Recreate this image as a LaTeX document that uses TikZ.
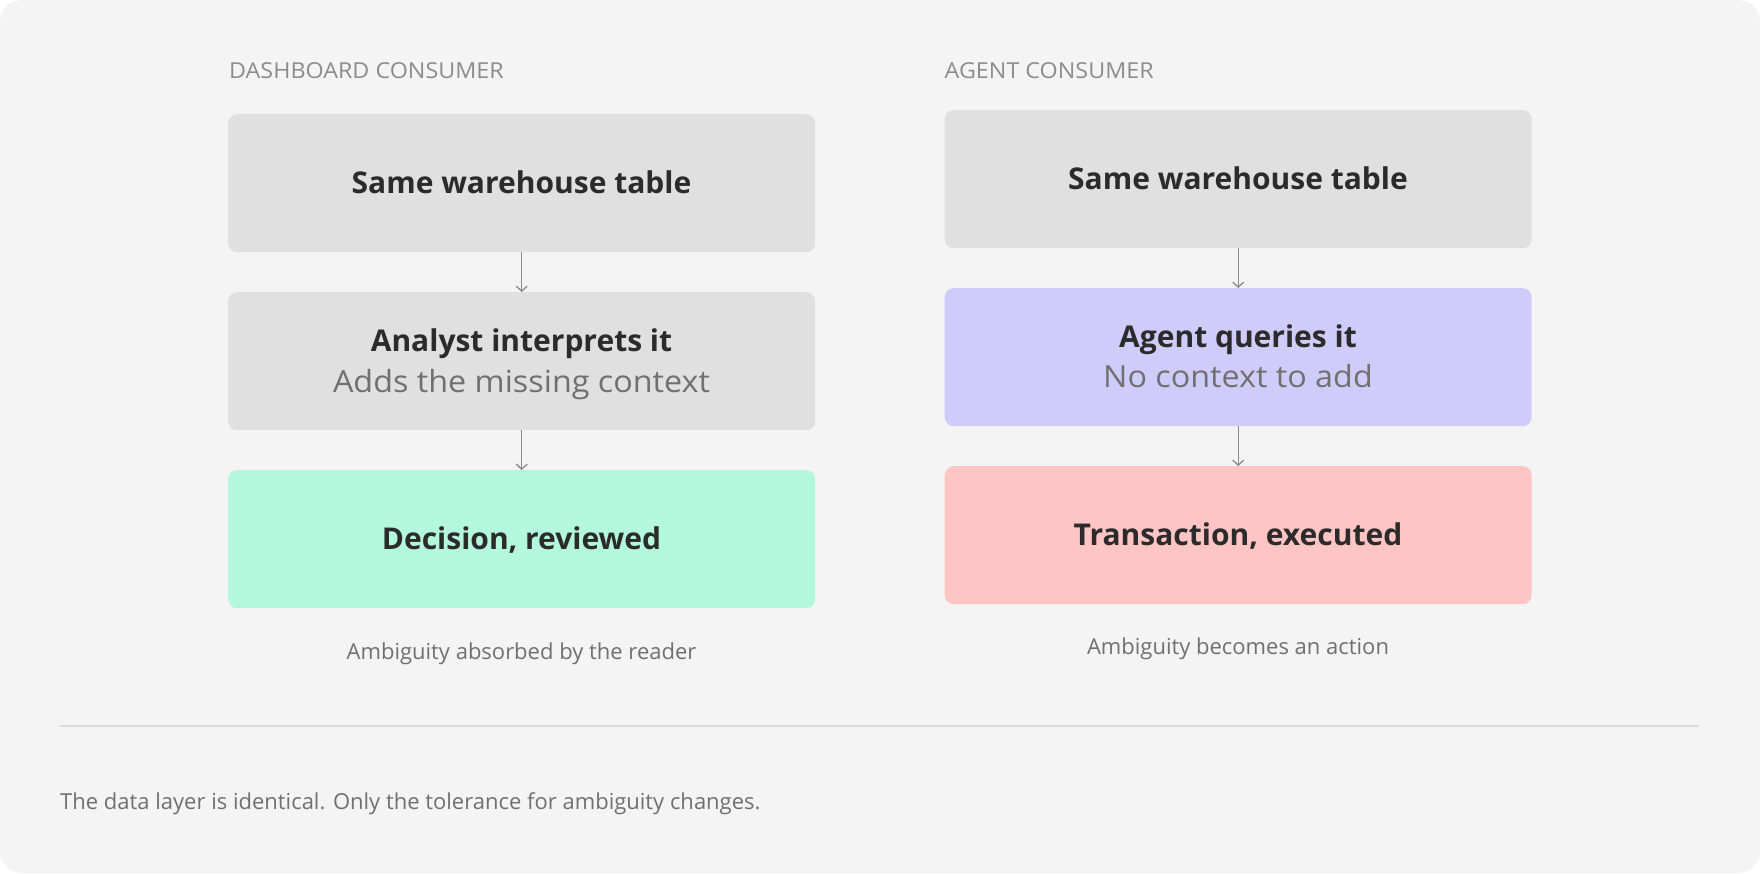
\documentclass[tikz,border=0pt]{standalone}
\usepackage{fontspec}
\setmainfont{Open Sans}
\newfontfamily\widefont[FakeStretch=1.06]{Open Sans}
\usetikzlibrary{arrows.meta}
\definecolor{bgc}{HTML}{F4F4F4}
\definecolor{boxgrey}{HTML}{E0E0E0}
\definecolor{mint}{HTML}{B3F7DF}
\definecolor{lav}{HTML}{D0CCFA}
\definecolor{pinkc}{HTML}{FFC4C4}
\definecolor{dark}{HTML}{2B2B2B}
\definecolor{subc}{HTML}{707070}
\definecolor{headc}{HTML}{8C8C8C}
\definecolor{arrc}{HTML}{8A8A8A}
\definecolor{rulec}{HTML}{DADADA}
\begin{document}
\begin{tikzpicture}[x=1pt,y=-1pt,
  card/.style={rectangle,rounded corners=9pt,minimum width=587pt,minimum height=138pt,inner sep=0pt,anchor=north west},
  ttl/.style={font=\fontsize{30}{34}\selectfont\bfseries,text=dark,anchor=base,inner sep=0pt},
  sub/.style={font=\widefont\fontsize{30.5}{34}\selectfont,text=subc,anchor=base,inner sep=0pt},
  head/.style={font=\widefont\fontsize{22}{24}\selectfont,text=headc,anchor=base west,inner sep=0pt},
  captxt/.style={font=\fontsize{22}{24}\selectfont,text=subc,anchor=base,inner sep=0pt},
  flow/.style={draw=arrc,line width=1.3pt,-{Straight Barb[length=5pt,width=11pt,line width=1.3pt]}}
]
\useasboundingbox (0,0) rectangle (1760,873);
\fill[white] (0,0) rectangle (1760,873);
\fill[bgc,rounded corners=22pt] (0,0) rectangle (1760,873);

% left column
\node[head] (hL) at (229,78) {DASHBOARD CONSUMER};
\node[card,fill=boxgrey] (L1) at (228,114) {};
\node[card,fill=boxgrey] (L2) at (228,292) {};
\node[card,fill=mint] (L3) at (228,470) {};
\node[ttl] (tL1) at (521.5,193) {Same warehouse table};
\node[ttl] (tL2) at (521.5,351) {Analyst interprets it};
\node[sub] (sL2) at (521.5,392) {Adds the missing context};
\node[ttl] (tL3) at (521.5,549) {Decision, reviewed};
\node[captxt] (cL) at (521.5,659) {Ambiguity absorbed by the reader};
\draw[flow] (L1.south) -- (L2.north);
\draw[flow] (L2.south) -- (L3.north);

% right column
\node[head] (hR) at (944.5,78) {AGENT CONSUMER};
\node[card,fill=boxgrey] (R1) at (944.5,110) {};
\node[card,fill=lav] (R2) at (944.5,288) {};
\node[card,fill=pinkc] (R3) at (944.5,466) {};
\node[ttl] (tR1) at (1238,189) {Same warehouse table};
\node[ttl] (tR2) at (1238,347) {Agent queries it};
\node[sub] (sR2) at (1238,387) {No context to add};
\node[ttl] (tR3) at (1238,545) {Transaction, executed};
\node[captxt] (cR) at (1238,654) {Ambiguity becomes an action};
\draw[flow] (R1.south) -- (R2.north);
\draw[flow] (R2.south) -- (R3.north);

% divider and footer
\coordinate (d1) at (60,726);
\coordinate (d2) at (1699,726);
\draw[rulec,line width=1.2pt] (d1) -- (d2);
\node[captxt,anchor=base west] (foot) at (60,809) {The data layer is identical. Only the tolerance for ambiguity changes.};
\end{tikzpicture}
\end{document}
